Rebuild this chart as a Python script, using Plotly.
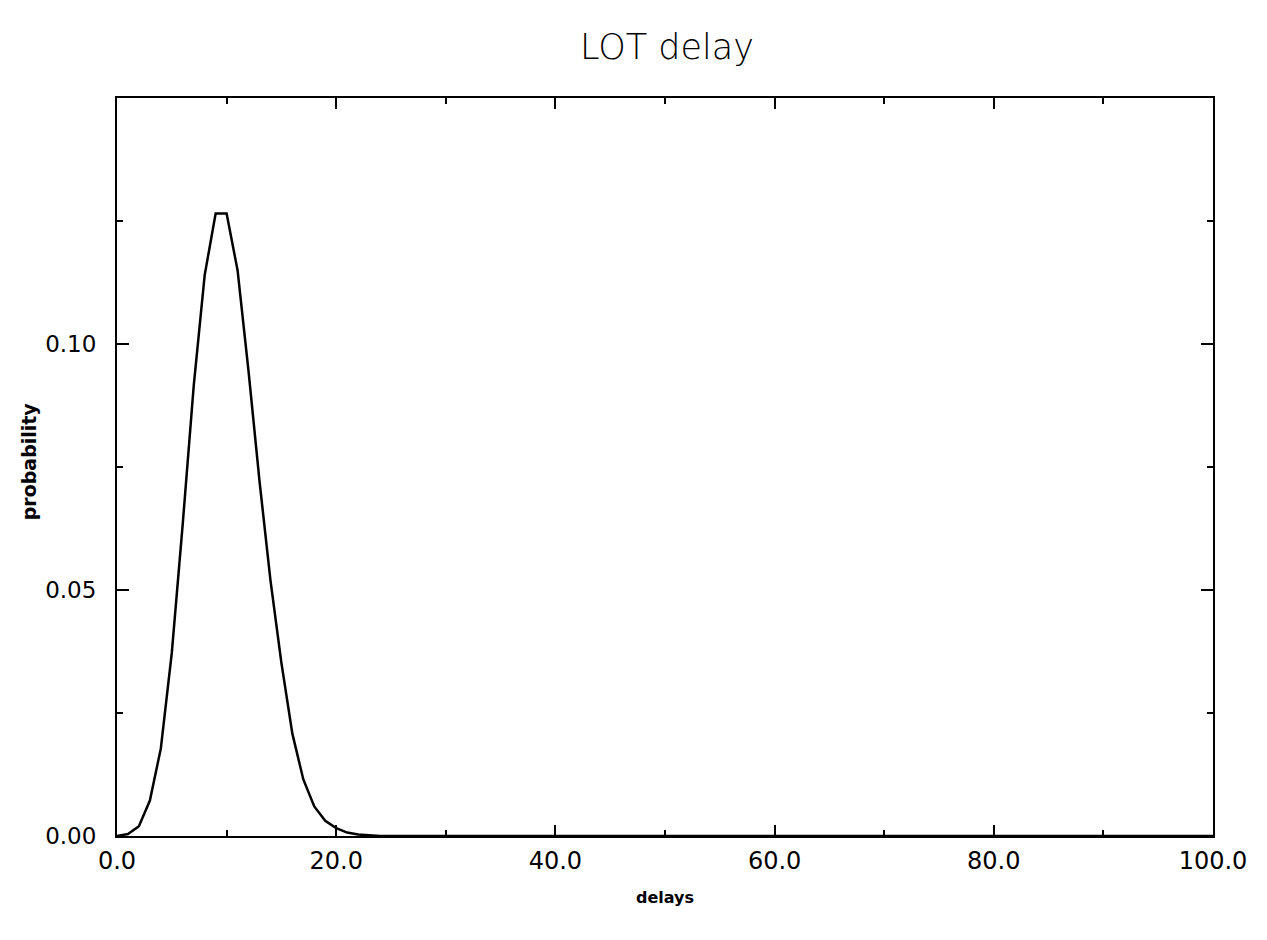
import plotly.graph_objects as go

delays = list(range(0, 101))
prob_head = [0.0000, 0.0004, 0.0020, 0.0072, 0.0178, 0.0372, 0.0635, 0.0915,
             0.1140, 0.1265, 0.1265, 0.1150, 0.0945, 0.0722, 0.0520, 0.0352,
             0.0208, 0.0115, 0.0060, 0.0031, 0.0016, 0.0007, 0.0003, 0.0001]
probability = prob_head + [0.0] * (len(delays) - len(prob_head))

x_major = [0, 20, 40, 60, 80, 100]
x_minor = [10, 30, 50, 70, 90]
x_labels = ["0.0", "20.0", "40.0", "60.0", "80.0", "100.0"]
y_major = [0.0, 0.05, 0.10]
y_minor = [0.025, 0.075, 0.125]
y_labels = ["0.00", "0.05", "0.10"]

W, H = 1251, 924
L, T = 109, 90
PW, PH = 1100, 738

fig = go.Figure()
fig.add_trace(go.Scatter(x=delays, y=probability, mode="lines",
                         line=dict(color="black", width=2.5), showlegend=False))

fig.update_layout(
    width=W, height=H,
    margin=dict(l=L, r=W - L - PW, t=T, b=H - T - PH),
    paper_bgcolor="white", plot_bgcolor="white",
    title=dict(text="LOT delay", x=659/W, xref="container", xanchor="center",
               y=1-39/H, yref="container", yanchor="middle",
               font=dict(family="DejaVu Sans", size=35, color="black", weight=200)),
    font=dict(family="DejaVu Sans", color="black"),
)
fig.update_xaxes(range=[0, 100], tickmode="array", tickvals=x_major, ticktext=x_labels,
                 ticks="inside", ticklen=11, tickwidth=2, tickcolor="black",
                 showline=True, linewidth=2, linecolor="black", mirror="ticks",
                 showgrid=False, zeroline=False, tickfont=dict(size=24),
                 ticklabelstandoff=2,
                 minor=dict(tickmode="array", tickvals=x_minor, ticks="inside",
                            ticklen=6, tickwidth=2, tickcolor="black", showgrid=False))
fig.update_yaxes(range=[0, 0.15], tickmode="array", tickvals=y_major, ticktext=y_labels,
                 ticks="inside", ticklen=12, tickwidth=2, tickcolor="black",
                 showline=True, linewidth=2, linecolor="black", mirror="ticks",
                 showgrid=False, zeroline=False, tickfont=dict(size=23),
                 ticklabelstandoff=14,
                 minor=dict(tickmode="array", tickvals=y_minor, ticks="inside",
                            ticklen=6, tickwidth=2, tickcolor="black", showgrid=False))

fig.add_annotation(text="delays", xref="paper", yref="paper", x=0.5, y=(836-897)/PH,
                   xanchor="center", yanchor="middle", showarrow=False,
                   font=dict(family="DejaVu Sans", size=16, color="black", weight="bold"))
fig.add_annotation(text="probability", xref="paper", yref="paper", x=(29-117)/PW,
                   y=(836-461)/PH, xanchor="center", yanchor="middle", textangle=-90,
                   showarrow=False,
                   font=dict(family="DejaVu Sans", size=19, color="black", weight="bold"))

fig.write_html("out.html")
